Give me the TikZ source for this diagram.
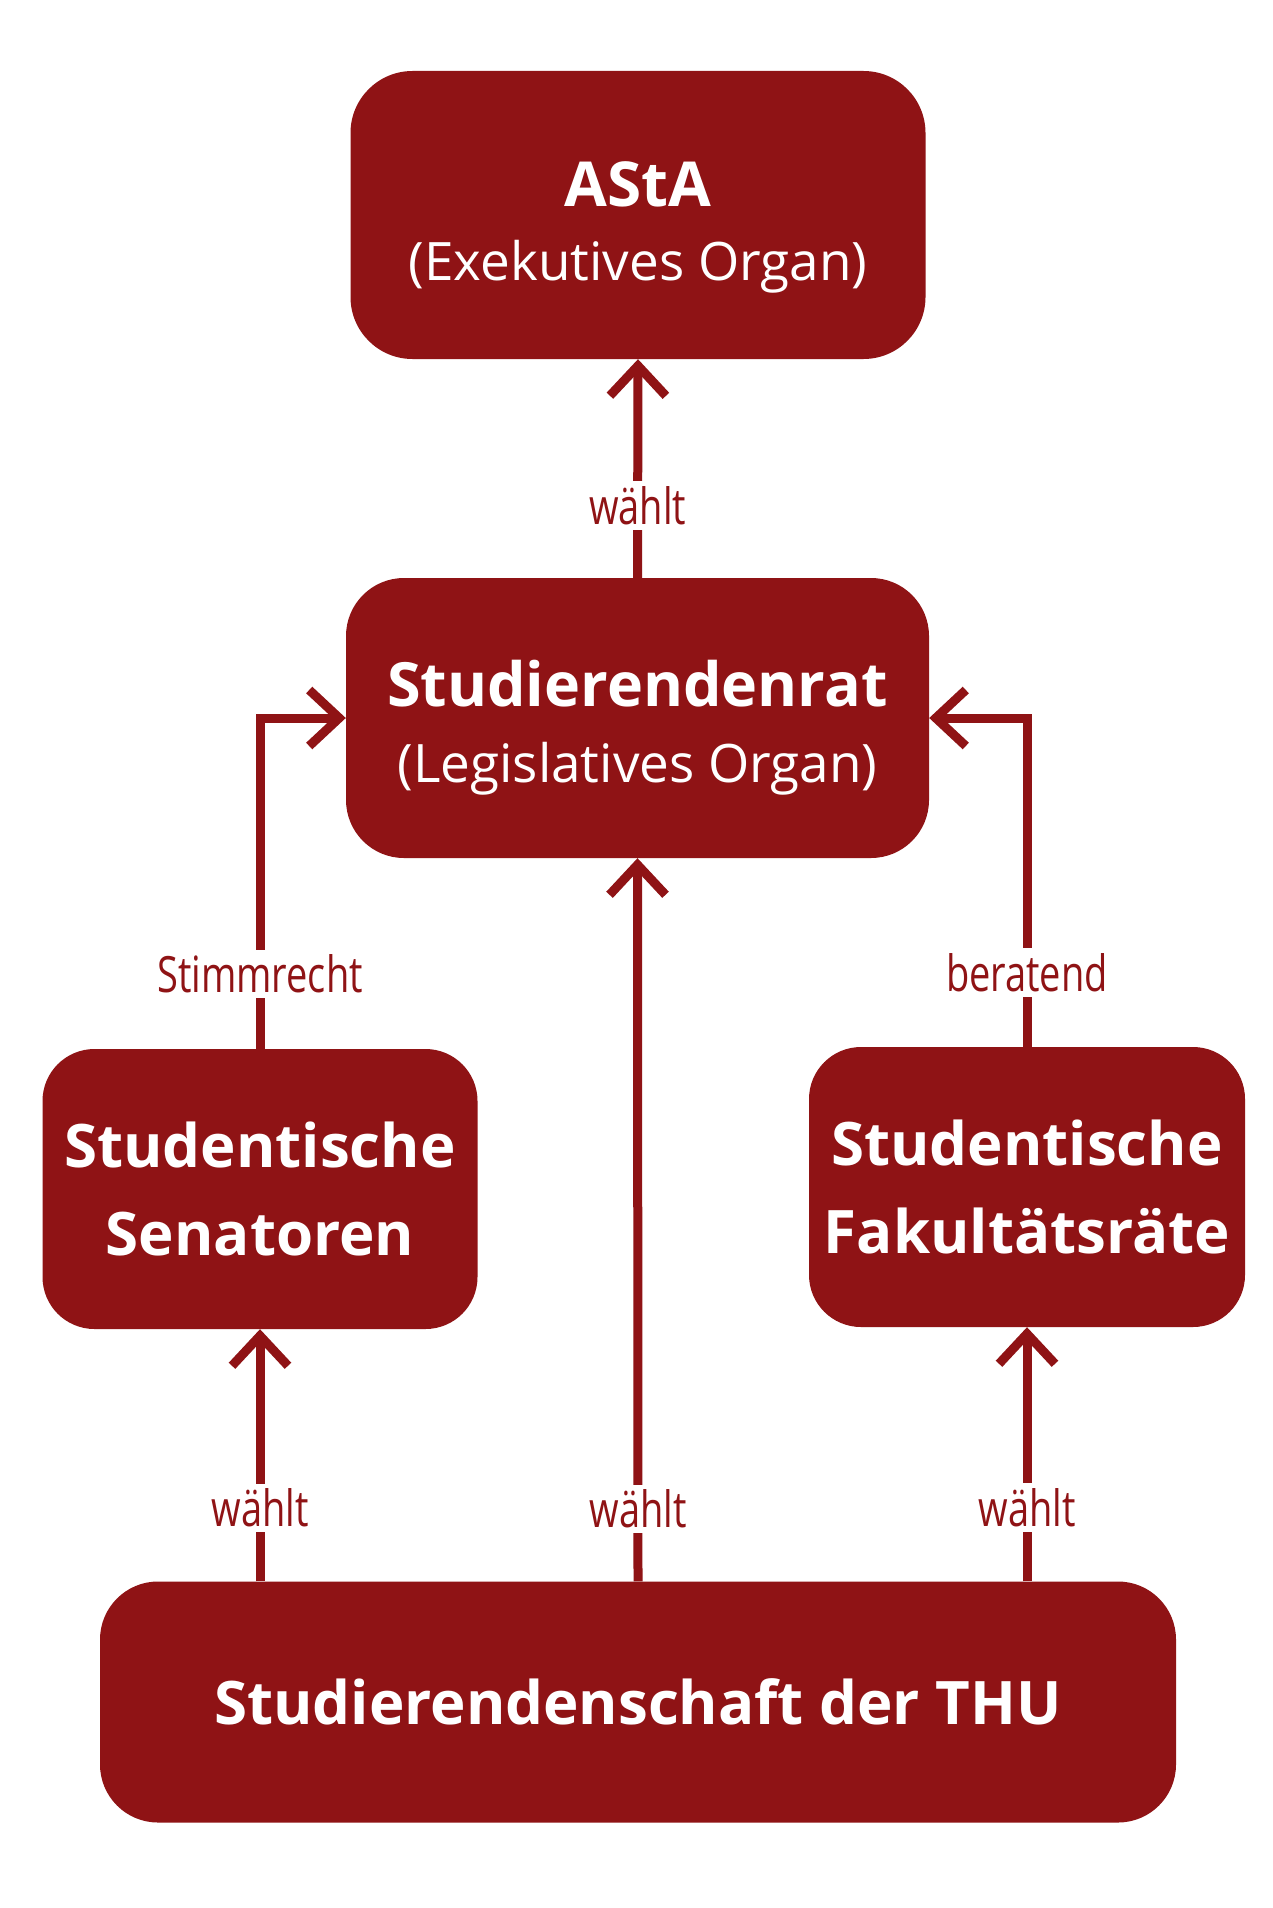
\documentclass[tikz,border=0pt]{standalone}
\usepackage{fontspec}
\setmainfont{Open Sans}
\newfontfamily\lblfont[FakeStretch=0.76]{Open Sans}
\usetikzlibrary{arrows.meta}
\definecolor{thured}{HTML}{8F1315}
\tikzset{
  box/.style={fill=thured, text=white, align=center, inner sep=0pt},
  boxtext/.style={text=white, align=center, inner sep=0pt},
  conn/.style={draw=thured, line width=9pt, -{Straight Barb[length=30pt,width=56pt]}},
  lbl/.style={fill=white, text=thured, font=\lblfont\fontsize{50}{50}\selectfont, inner sep=5pt},
}
\begin{document}
\begin{tikzpicture}[x=1pt,y=-1pt]
\fill[white] (0,0) rectangle (1272,1908);
\useasboundingbox (0,0) rectangle (1272,1908);

\node[box, rounded corners=62pt, minimum width=575pt, minimum height=288pt] (asta) at (638,215) {};
\node[boxtext, font=\fontsize{53}{74}\selectfont] (astatext) at ([yshift=-12pt]asta.center)
  {{\bfseries\fontsize{62}{74}\selectfont AStA}\\(Exekutives Organ)};
\node[box, rounded corners=58pt, minimum width=583pt, minimum height=280pt] (rat) at (637.5,718) {};
\node[boxtext, font=\fontsize{53}{76}\selectfont] (rattext) at ([yshift=-10pt]rat.center)
  {{\bfseries\fontsize{61}{76}\selectfont Studierendenrat}\\(Legislatives Organ)};
\node[box, rounded corners=52pt, minimum width=435pt, minimum height=280pt,
      font=\bfseries\fontsize{60}{88}\selectfont] (sen) at (260,1189)
  {Studentische\\Senatoren};
\node[box, rounded corners=52pt, minimum width=436pt, minimum height=280pt,
      font=\bfseries\fontsize{60}{88}\selectfont] (fak) at (1027,1187)
  {Studentische\\Fakultätsräte};
\node[box, rounded corners=58pt, minimum width=1076pt, minimum height=241pt,
      font=\bfseries\fontsize{60}{72}\selectfont] (schaft) at (638,1702)
  {Studierendenschaft der THU};

\draw[conn] (rat.north) -- node[lbl, pos=0.33] {wählt} (asta.south);
\draw[conn] (schaft.north) -- node[lbl, pos=0.10] {wählt} (rat.south);
\draw[conn] (schaft.north -| sen.south) -- node[lbl, pos=0.29] {wählt} (sen.south);
\draw[conn] (schaft.north -| fak.south) -- node[lbl, pos=0.29] {wählt} (fak.south);
\draw[conn] (sen.north) |- node[lbl, pos=0.113] {Stimmrecht} (rat.west);
\draw[conn] (fak.north) |- node[lbl, pos=0.113] {beratend} (rat.east);
\end{tikzpicture}
\end{document}
